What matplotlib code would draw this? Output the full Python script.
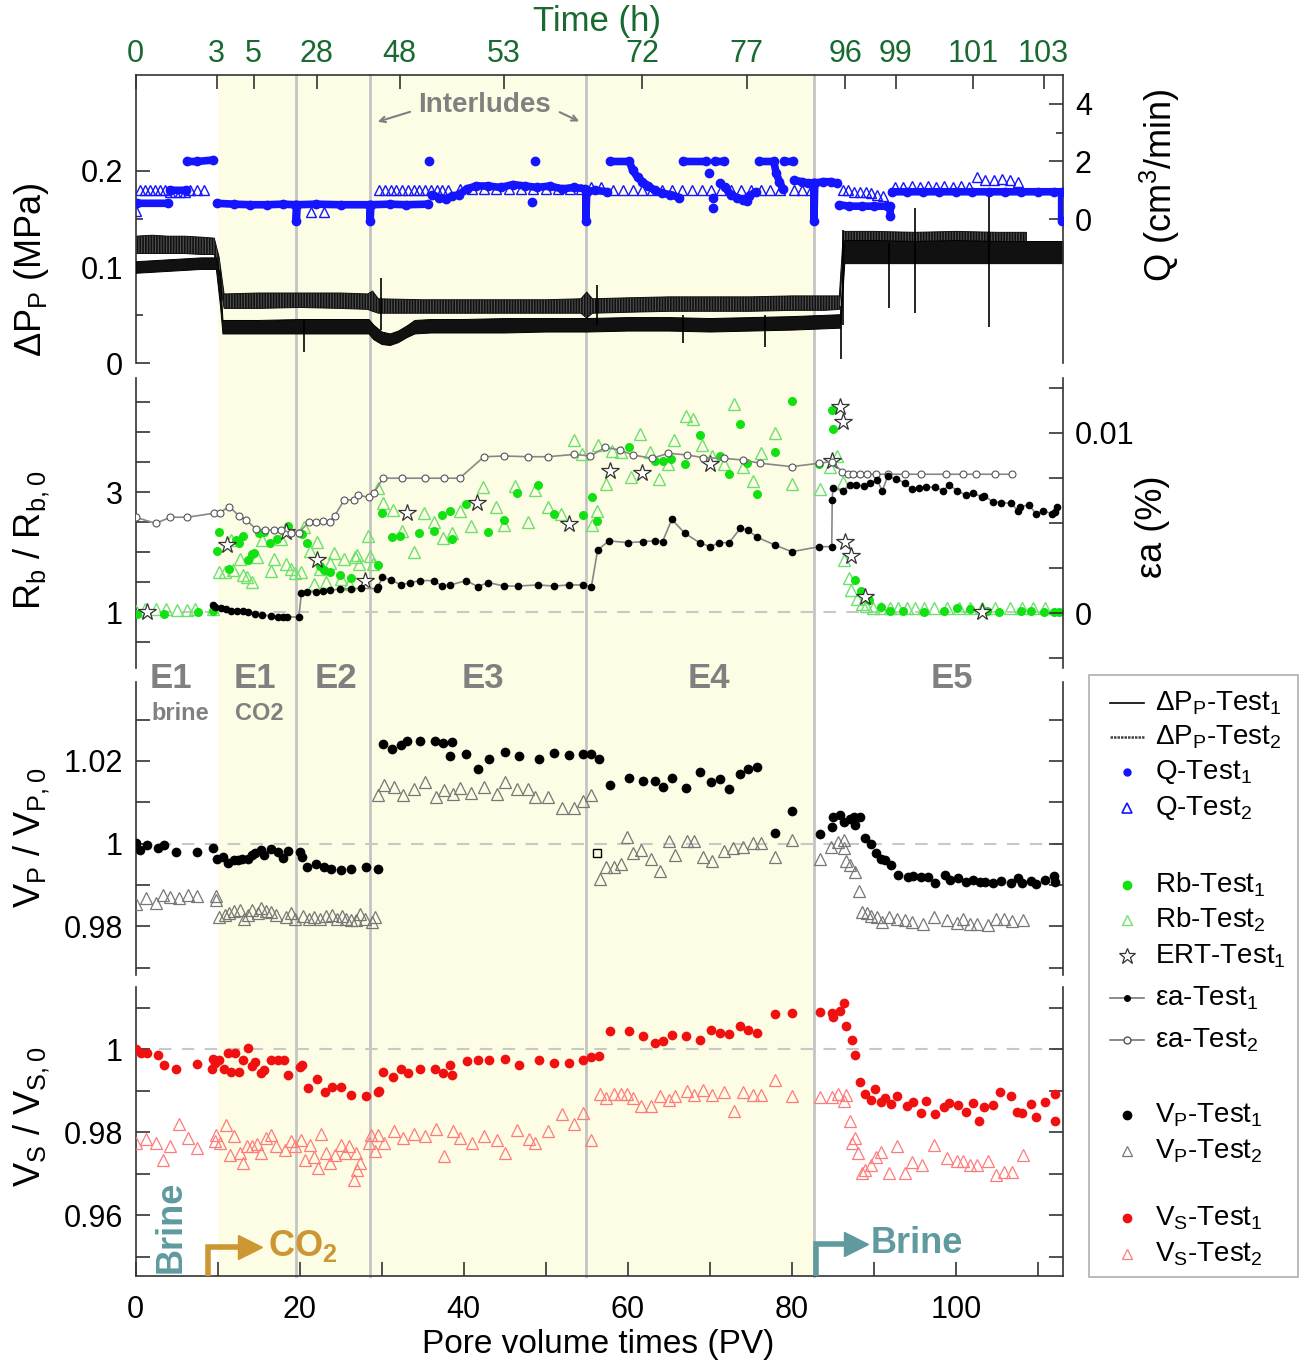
import numpy as np
import matplotlib.pyplot as plt
import matplotlib.transforms as mtransforms
from matplotlib.patches import Rectangle
from matplotlib.lines import Line2D

plt.rcParams['font.family'] = ['Liberation Sans', 'DejaVu Sans']
plt.rcParams['mathtext.default'] = 'regular'
plt.rcParams['hatch.linewidth'] = 1.2

nan = np.nan

# ---------------- data ----------------
# top axis: time in hours at pore-volume positions
time_pos = [0, 9.9, 14.4, 22.1, 32.2, 44.9, 61.8, 74.5, 86.5, 92.7, 102.1, 110.7]
time_lbl = ['0', '3', '5', '28', '48', '53', '72', '77', '96', '99', '101', '103']

co2_start, co2_end = 10.0, 82.7
interludes = [19.6, 28.6, 54.9, 82.7]

# pressure drop, envelope of the noisy records (MPa)
dp1_x = [0, 2, 4, 6, 8, 9.8, 10.3, 10.6, 15, 20, 25, 28.4, 29.0, 30, 31, 32, 33, 34, 36, 40, 45, 50, 55,
         60, 65, 70, 75, 80, 83, 85.9, 86.4, 90, 95, 100, 105, 110, 113]
dp1_lo = [0.094, 0.095, 0.096, 0.097, 0.098, 0.098, 0.060, 0.031, 0.031, 0.031, 0.031, 0.031, 0.025, 0.020,
          0.019, 0.022, 0.027, 0.031, 0.032, 0.032, 0.032, 0.033, 0.033, 0.034, 0.034, 0.033, 0.034, 0.035,
          0.036, 0.037, 0.104, 0.104, 0.104, 0.104, 0.104, 0.104, 0.104]
dp1_hi = [0.106, 0.107, 0.108, 0.109, 0.110, 0.110, 0.090, 0.045, 0.045, 0.046, 0.046, 0.046, 0.040, 0.033,
          0.031, 0.034, 0.039, 0.045, 0.046, 0.046, 0.047, 0.047, 0.047, 0.048, 0.048, 0.047, 0.048, 0.049,
          0.050, 0.051, 0.128, 0.128, 0.127, 0.128, 0.127, 0.127, 0.127]
dp2_x = [0, 2, 4, 6, 8, 9.6, 10.2, 10.8, 15, 20, 25, 28.3, 28.9, 29.6, 35, 40, 45, 50, 54.3, 55.0, 55.7,
         60, 65, 70, 75, 80, 84, 85.8, 86.3, 90, 95, 100, 105, 108.6]
dp2_lo = [0.114, 0.114, 0.114, 0.114, 0.113, 0.113, 0.090, 0.057, 0.057, 0.058, 0.057, 0.056, 0.054, 0.052,
          0.052, 0.052, 0.052, 0.052, 0.052, 0.047, 0.052, 0.053, 0.054, 0.054, 0.054, 0.055, 0.055, 0.056,
          0.116, 0.116, 0.116, 0.116, 0.116, 0.116]
dp2_hi = [0.132, 0.133, 0.132, 0.132, 0.131, 0.130, 0.110, 0.072, 0.073, 0.073, 0.073, 0.072, 0.075, 0.067,
          0.066, 0.066, 0.066, 0.066, 0.067, 0.074, 0.067, 0.068, 0.069, 0.069, 0.069, 0.070, 0.070, 0.070,
          0.137, 0.137, 0.136, 0.137, 0.136, 0.136]
spike_x = [20.5, 29.9, 56.3, 66.8, 76.7, 86.0, 86.3, 91.9, 95.0, 104.0]
spike_lo = [0.012, 0.035, 0.040, 0.021, 0.017, 0.004, 0.040, 0.057, 0.052, 0.038]
spike_hi = [0.045, 0.089, 0.081, 0.050, 0.050, 0.060, 0.138, 0.125, 0.161, 0.178]

# flow rate Q (cm3/min), test 1 runs (nan separates runs)
q1_x = [0.2, 4.0, nan, 4.2, 6.1, nan, 6.3, 7.5, 9.4, nan,
        9.9, 12, 14, 16, 18, 19.5, 19.6, 19.6, 19.7, 22, 25, 28.5, 28.6, 28.6, 28.7, 31, 33, 35.6, nan,
        36.2, 37.0, 37.8, 38.6, 39.4, 40.4, 41.5, 43, 44.5, 46, 47.5, 49, 50.5, 52, 53.5, 54.8, 54.9, 54.9,
        55.0, 56.0, 57.5, nan,
        57.8, 60.2, 60.6, 61.2, 61.8, 62.5, 63.3, 64.2, 65.2, 66.3, nan,
        66.8, 69.6, nan, 70.6, 71.7, nan,
        71.9, 72.6, 73.3, 74.0, 74.8, 75.6, nan,
        76.0, 77.8, 78.1, 78.5, 78.9, nan,
        79.1, 80.1, nan,
        80.3, 81.2, 82.0, 82.6, 82.7, 82.7, 82.8, 83.8, 84.8, 85.5, nan,
        85.8, 87, 88.5, 90, 91.6, 92.0, 92.0, nan,
        92.2, 94, 96, 98, 100, 102, 104, 106, 108, 110, 112, 112.9, 112.9]
q1_y = [0.55, 0.55, nan, 1.0, 1.0, nan, 2.0, 2.0, 2.05, nan,
        0.55, 0.52, 0.5, 0.5, 0.52, 0.5, 0.5, -0.05, 0.5, 0.52, 0.5, 0.5, 0.5, -0.05, 0.5, 0.52, 0.5, 0.52, nan,
        0.85, 0.75, 0.7, 0.8, 0.85, 1.05, 1.15, 1.15, 1.1, 1.2, 1.15, 1.1, 1.15, 1.05, 1.1, 1.05, 1.0, -0.05,
        0.95, 1.0, 0.95, nan,
        2.0, 2.0, 1.7, 1.45, 1.3, 1.15, 1.0, 0.9, 0.85, 0.75, nan,
        2.0, 2.0, nan, 2.0, 2.0, nan,
        1.1, 0.85, 0.75, 0.65, 0.8, 0.95, nan,
        2.0, 2.0, 1.6, 1.3, 1.05, nan,
        2.0, 2.0, nan,
        1.35, 1.3, 1.25, 1.25, 1.25, -0.05, 1.25, 1.3, 1.3, 1.25, nan,
        0.5, 0.45, 0.45, 0.45, 0.45, 0.45, 0.1, nan,
        0.95, 0.95, 0.95, 0.95, 0.95, 0.95, 0.95, 0.95, 0.95, 0.95, 0.95, 0.95, -0.05]
q1_pt_x = [35.8, 48.7, 48.3, 69.9, 70.4, 70.4, 71.3, 74.5]
q1_pt_y = [2.0, 2.0, 0.6, 1.6, 0.75, 0.4, 1.25, 0.62]
q2_x = [0.0,
        0.5, 1.2, 1.8, 2.4, 3.0, 3.6, 4.2, 4.8, 5.4, 6.0, 6.7, 7.5, 8.3,
        21.4, 23.0,
        29.7, 30.4, 31.1, 31.8, 32.5, 33.2, 33.9, 34.6, 35.3, 36.0, 36.7, 37.4, 38.1,
        39.5, 41.0, 42.5, 44.0, 45.5, 47.0, 48.5, 50.0, 51.5, 53.0, 54.3,
        55.5, 56.8,
        58.2, 59.4, 60.6, 61.8, 63.0, 64.2, 65.4, 66.6, 67.8, 69.0, 70.2, 71.4, 72.6, 73.8, 75.0, 76.2, 77.4, 78.6,
        80.3, 81.3, 82.3,
        86.2, 86.9, 87.6, 88.3, 89.0, 89.7, 90.4, 91.1,
        92.6, 93.6, 94.6, 95.6, 96.6, 97.6, 98.6, 99.6, 100.6, 101.6,
        102.6, 103.6, 104.6, 105.6, 106.6, 107.6]
q2_y = [0.3,
        1.0, 1.0, 1.0, 1.0, 1.0, 1.0, 0.95, 0.95, 0.95, 0.95, 1.0, 1.0, 1.0,
        0.25, 0.25,
        1.0, 1.0, 1.0, 1.0, 1.0, 1.0, 1.0, 1.0, 1.0, 1.0, 1.0, 1.0, 1.0,
        1.05, 1.05, 1.05, 1.05, 1.05, 1.05, 1.05, 1.05, 1.05, 1.05, 1.05,
        1.1, 1.1,
        1.0, 1.0, 1.0, 1.0, 1.0, 1.0, 1.0, 1.0, 1.0, 1.0, 1.0, 1.0, 1.0, 1.0, 1.0, 1.0, 1.0, 1.0,
        1.0, 1.0, 1.0,
        1.0, 1.0, 0.95, 0.95, 0.95, 0.9, 0.85, 0.8,
        1.1, 1.1, 1.15, 1.1, 1.15, 1.1, 1.15, 1.1, 1.15, 1.1,
        1.45, 1.35, 1.35, 1.4, 1.35, 1.3]

# bulk resistivity Rb/Rb,0
rb1_x = [0.2, 3.5, 7.6, 9.4, 9.9, 10.2, 11.4, 12.2, 12.6, 13.1, 13.7, 14.2, 14.5, 15.1, 15.7, 16.4, 17.2, 18.6,
         20.0, 20.3, 20.9, 22.5, 23.0, 23.7, 24.9, 26.3, 29.6, 30.1, 31.3, 32.3, 34.6, 36.4, 37.4, 38.3, 38.6,
         40.3, 43.0, 44.9, 46.5, 49.1, 51.0, 54.5, 55.6, 56.3, 60.1, 63.3, 64.3, 65.3, 67.0, 68.8, 71.2, 72.4,
         73.7, 74.6, 75.8, 77.9, 80.0, 83.3, 84.9, 85.0, 87.7, 88.4, 89.4, 90.9, 92.0, 93.5, 96.1, 98.6, 100.2,
         101.7, 103.8, 105.3, 107.9, 109.1, 110.7, 112.0, 112.6]
rb1_y = [0.98, 0.98, 1.0, 1.02, 2.03, 2.34, 1.73, 2.21, 2.16, 2.27, 1.88, 1.98, 1.99, 2.33, 2.34, 2.15, 2.23, 2.44,
         2.32, 2.31, 2.16, 1.77, 1.71, 1.67, 1.62, 1.58, 1.79, 2.65, 2.25, 2.27, 2.32, 2.36, 2.62, 2.69, 2.22,
         2.81, 2.34, 2.54, 2.99, 3.12, 2.64, 2.63, 2.93, 2.52, 3.75, 3.53, 3.53, 3.55, 3.48, 3.96, 3.61, 3.31,
         4.14, 3.49, 2.98, 3.67, 4.53, 3.48, 4.37, 4.05, 1.54, 1.36, 1.21, 1.09, 1.03, 1.03, 1.0, 1.03, 1.07,
         1.05, 1.03, 1.01, 1.03, 1.03, 1.01, 1.01, 1.0]
rb2_x = [0.0, 1.2, 2.5, 3.7, 5.0, 6.3, 7.3, 9.4,
         10.2, 10.9, 11.6, 11.9, 12.7, 13.1, 13.6, 14.2, 14.8, 15.4,
         16.5, 16.9, 17.7, 18.3, 18.9, 19.4, 20.2, 20.5, 21.3, 21.7,
         22.1, 22.5, 23.2, 23.7, 24.2, 25.0, 25.4, 26.0, 26.7, 27.0,
         27.2, 28.4, 28.6, 29.0, 29.5, 30.2, 31.4, 32.5, 33.9, 35.2,
         36.4, 37.5, 38.6, 39.5, 40.9, 42.4, 43.9, 44.9, 46.3, 47.9,
         48.7, 50.3, 51.9, 53.5, 54.4, 55.6, 56.3, 56.4, 57.3, 58.1,
         59.2, 60.4, 61.5, 62.7, 63.8, 64.9, 65.7, 67.1, 68.0, 69.1,
         70.3, 71.7, 72.9, 74.0, 75.3, 76.2, 77.9, 80.0, 83.4, 84.7,
         85.5, 86.2, 86.4, 87.0, 87.2, 87.9, 88.6, 89.1,
         89.9, 90.9, 92.0, 93.0, 94.0, 95.0, 96.1, 97.3, 98.9, 100.4, 101.7, 103.2, 104.8, 106.6, 108.1, 109.4, 110.9]
rb2_y = [1.03, 1.05, 1.05, 1.05, 1.04, 1.04, 1.05, 1.05,
         1.68, 1.68, 2.21, 1.71, 1.89, 1.62, 1.59, 1.51, 1.93, 2.21,
         1.69, 1.89, 2.23, 1.81, 1.72, 1.65, 1.68, 2.43, 2.03, 1.47,
         2.18, 1.73, 1.51, 1.82, 1.99, 1.55, 1.89, 1.48, 1.93, 1.96,
         1.81, 2.27, 1.94, 1.81, 3.08, 2.83, 2.71, 2.36, 2.01, 2.65,
         2.51, 2.24, 2.32, 2.69, 2.44, 3.09, 2.75, 2.46, 3.11, 2.51,
         3.04, 2.75, 2.64, 3.88, 3.64, 2.45, 2.69, 3.79, 3.14, 3.69,
         3.68, 3.26, 3.97, 3.68, 3.23, 3.48, 3.88, 4.27, 4.23, 3.79,
         3.61, 3.48, 4.47, 3.43, 3.19, 3.65, 3.99, 3.14, 3.05, 3.43,
         3.61, 3.18, 1.87, 1.57, 1.37, 1.23, 1.14, 1.11,
         1.08, 1.07, 1.08, 1.08, 1.07, 1.08, 1.08, 1.07, 1.08, 1.08, 1.07, 1.08, 1.08, 1.07, 1.08, 1.08, 1.07]
ert_x = [1.4, 11.2, 18.3, 22.1, 28.0, 33.1, 41.6, 52.8, 57.8, 61.8, 70.0, 84.9, 85.9, 86.2, 86.5, 87.2, 88.9, 103.2]
ert_y = [1.0, 2.12, 2.34, 1.87, 1.53, 2.66, 2.82, 2.48, 3.36, 3.32, 3.47, 3.53, 4.43, 4.18, 2.18, 1.94, 1.26, 1.0]

# axial strain (%)
ea1_x = [9.39, 9.75, 10.42, 11.03, 11.70, 12.37, 13.08, 13.75, 14.52, 15.39, 16.47, 17.34, 17.96, 18.52, 19.91,
         20.22, 20.93, 21.96, 22.88, 23.76, 24.94, 26.22, 27.50, 29.40, 29.55, 30.07, 31.20, 32.32, 33.50, 34.68,
         36.33, 37.35, 38.38, 40.33, 41.71, 43.00, 44.95, 46.59, 49.05, 51.00, 52.85, 54.49, 55.57, 56.34, 57.72,
         60.08, 61.83, 63.27, 64.25, 65.38, 66.97, 68.76, 70.05, 71.18, 72.36, 73.74, 74.61, 75.79, 77.95, 80.00,
         83.34, 84.87, 84.93, 85.00, 86.21, 87.08, 87.85, 88.77, 89.54, 90.42, 91.03, 91.70, 92.73, 93.75, 94.62,
         95.55, 96.32, 97.44, 98.47, 99.14, 100.17, 101.19, 102.11, 103.14, 103.40, 104.53, 105.55, 106.68,
         107.60, 107.86, 108.89, 109.81, 110.68, 111.71, 112.07, 112.38]
ea1_y = [0.00046, 0.00037, 0.00028, 0.00022, 0.00015, 0.00015, 0.00015, 0.00006, -0.00004, -0.00009, -0.00015,
         -0.00018, -0.00018, -0.00018, -0.00022, 0.00111, 0.00120, 0.00120, 0.00124, 0.00129, 0.00133, 0.00137,
         0.00138, 0.00137, 0.00144, 0.00199, 0.00185, 0.00157, 0.00170, 0.00181, 0.00181, 0.00151, 0.00157,
         0.00181, 0.00148, 0.00170, 0.00151, 0.00151, 0.00157, 0.00151, 0.00157, 0.00157, 0.00148, 0.00351,
         0.00401, 0.00391, 0.00397, 0.00401, 0.00397, 0.00520, 0.00443, 0.00391, 0.00369, 0.00391, 0.00391,
         0.00471, 0.00461, 0.00421, 0.00378, 0.00341, 0.00369, 0.00369, 0.00628, 0.00692, 0.00679, 0.00711,
         0.00711, 0.00705, 0.00720, 0.00738, 0.00677, 0.00760, 0.00742, 0.00724, 0.00687, 0.00692, 0.00698,
         0.00698, 0.00679, 0.00711, 0.00679, 0.00655, 0.00664, 0.00646, 0.00650, 0.00618, 0.00613, 0.00609,
         0.00568, 0.00591, 0.00600, 0.00550, 0.00568, 0.00550, 0.00563, 0.00591]
ea2_x = [0, 2.46, 4.26, 6.31, 9.54, 10.26, 11.44, 12.62, 13.49, 14.67, 15.80, 16.93, 17.75, 18.98, 19.91, 21.19,
         21.96, 22.88, 23.65, 24.27, 25.45, 26.58, 27.09, 28.42, 29.04, 30.17, 32.48, 35.30, 37.61, 39.51, 42.48,
         44.95, 47.87, 50.28, 53.51, 55.46, 57.26, 59.06, 60.70, 63.01, 64.92, 67.17, 69.23, 71.69, 74.0, 76.15,
         80.0, 83.34, 84.87, 86.16, 86.82, 87.44, 88.37, 89.13, 90.31, 91.70, 93.75, 95.8, 98.78, 100.93, 102.47,
         104.78, 106.84]
ea2_y = [0.00532, 0.00498, 0.00532, 0.00532, 0.00554, 0.00557, 0.00591, 0.00539, 0.00517, 0.00467, 0.00461,
         0.00461, 0.00461, 0.00447, 0.00447, 0.00508, 0.00508, 0.00511, 0.00508, 0.00539, 0.00628, 0.00628,
         0.00655, 0.00642, 0.00664, 0.00748, 0.00748, 0.00748, 0.00748, 0.00748, 0.00867, 0.00871, 0.00867,
         0.00867, 0.00880, 0.00871, 0.00919, 0.00904, 0.00876, 0.00858, 0.00886, 0.00877, 0.00862, 0.00858,
         0.00849, 0.00831, 0.00812, 0.00831, 0.00840, 0.00784, 0.00770, 0.00770, 0.00770, 0.00770, 0.00770,
         0.00770, 0.00770, 0.00770, 0.00770, 0.00770, 0.00770, 0.00770, 0.00770]

# P-wave velocity VP/VP,0
vp1_x = [0, 0.56, 1.44, 2.72, 3.49, 4.93, 7.49, 9.39, 9.9, 10.67, 11.29, 11.95, 12.47, 12.98, 13.75, 14.16, 14.57,
         15.29, 15.7, 16.57, 17.34, 18.01, 18.62, 20.01, 20.27, 20.93, 22.06, 22.99, 23.86, 25.04, 26.22, 28.12,
         29.55,
         30.17, 31.3, 32.32, 33.15, 34.68, 36.48, 37.46, 38.63, 38.37, 40.33, 41.71, 43.1, 45.05, 46.69, 49.15,
         51.05, 52.85, 54.54, 55.57, 56.45, 57.88, 60.18, 61.83, 63.27,
         64.25, 65.38, 67.07, 68.87, 70.15, 71.28, 72.36, 73.74, 74.66, 75.79, 78.0, 80.0, 83.39, 84.93, 85.03,
         85.9, 86.41, 87.08, 87.6, 87.75, 88.37, 88.98, 89.65, 90.26, 90.83, 91.34, 92.11, 92.98, 94.11, 94.78,
         95.8, 96.57, 97.5, 98.63, 99.24, 100.27, 101.19, 102.11, 102.99, 103.5, 104.53, 105.45, 106.68, 107.6,
         108.12, 109.14, 109.81, 110.84, 111.96, 112.12]
vp1_y = [1.0001, 0.9985, 0.9997, 0.9989, 0.9998, 0.9979, 0.9981, 0.9989, 0.9962, 0.9969, 0.9954, 0.9961, 0.9961,
         0.9962, 0.9962, 0.9973, 0.9977, 0.9985, 0.9973, 0.9986, 0.9981, 0.9965, 0.9983, 0.9979, 0.9969, 0.9943,
         0.9951, 0.9943, 0.9939, 0.9936, 0.9940, 0.9943, 0.9938,
         1.0241, 1.0228, 1.0239, 1.0248, 1.0248, 1.0249, 1.0244, 1.0245, 1.0213, 1.0216, 1.0181, 1.0204, 1.0221,
         1.0211, 1.0205, 1.0219, 1.0215, 1.0217, 1.0216, 1.0205, 1.0142, 1.0158, 1.0152, 1.0152,
         1.0136, 1.0158, 1.0134, 1.0174, 1.0148, 1.0156, 1.0132, 1.0168, 1.0181, 1.0185, 1.0027, 1.0080, 1.0023,
         1.0041, 1.0065, 1.0069, 1.0053, 1.0059, 1.0065, 1.0044, 1.0065, 1.0013, 0.9999, 0.9977, 0.9962, 0.9961,
         0.9948, 0.9924, 0.9920, 0.9922, 0.9920, 0.9919, 0.9906, 0.9924, 0.9912, 0.9916, 0.9908, 0.9912, 0.9908,
         0.9908, 0.9904, 0.9911, 0.9906, 0.9916, 0.9904, 0.9911, 0.9902, 0.9912, 0.9922, 0.9908]
vp2_x = [0, 1.33, 2.46, 3.39, 4.26, 5.28, 6.41, 7.44, 9.8, 9.8, 10.16, 10.93, 11.44, 11.95, 12.72, 13.24, 13.75,
         14.16, 14.88, 15.29, 15.91, 16.57, 17.08, 18.37, 18.98, 19.39, 20.42, 21.19, 21.7, 22.47, 23.24, 24.01,
         24.53, 25.14, 25.66, 26.32, 26.84, 27.35, 28.01, 28.78, 29.14,
         29.55, 30.27, 31.45, 32.58, 33.92, 35.3, 36.58, 37.61, 38.74, 39.56, 40.94, 42.48, 44.02, 45.05, 46.49,
         47.87, 48.74, 50.33, 51.98, 53.51, 54.54, 55.57,
         56.59, 57.36, 58.28, 59.16, 59.93, 60.6, 61.57, 62.85, 63.9, 65.02, 65.79, 67.23, 68.1, 69.12, 70.3,
         71.69, 72.87, 74.1, 75.28, 76.2, 78.0, 80.0, 83.49, 84.77, 85.65, 86.31, 86.31, 86.57, 87.08, 87.7,
         88.21, 88.62, 89.13, 89.65, 90.42, 91.03, 91.85, 92.88, 93.75, 94.62, 95.96, 97.34, 98.88, 100.17,
         100.93, 101.71, 102.63, 103.86, 104.89, 105.91, 106.84, 108.22]
vp2_y = [0.9854, 0.9868, 0.9856, 0.9877, 0.9872, 0.9868, 0.9876, 0.9873, 0.9873, 0.9864, 0.9823, 0.9827, 0.9833,
         0.9838, 0.9841, 0.9817, 0.9827, 0.9840, 0.9833, 0.9844, 0.9838, 0.9836, 0.9827, 0.9823, 0.9832, 0.9817,
         0.9825, 0.9817, 0.9822, 0.9819, 0.9825, 0.9827, 0.9819, 0.9825, 0.9817, 0.9815, 0.9815, 0.9830, 0.9817,
         0.9811, 0.9822,
         1.0118, 1.0142, 1.0136, 1.0118, 1.0132, 1.0148, 1.0112, 1.0130, 1.0119, 1.0134, 1.0123, 1.0136, 1.0120,
         1.0148, 1.0132, 1.0132, 1.0112, 1.0114, 1.0086, 1.0086, 1.0104, 1.0118,
         0.9915, 0.9944, 0.9944, 0.9951, 1.0017, 0.9978, 0.9985, 0.9962, 0.9935, 1.0007, 0.9973, 1.0007, 1.0007,
         0.9967, 0.9957, 0.9983, 0.9989, 0.9993, 1.0001, 1.0001, 0.9969, 1.0009, 0.9962, 0.9993, 1.0005, 1.0009,
         0.9989, 0.9957, 0.9948, 0.9932, 0.9886, 0.9836, 0.9833, 0.9825, 0.9823, 0.9811, 0.9822, 0.9817, 0.9815,
         0.9811, 0.9806, 0.9822, 0.9815, 0.9809, 0.9817, 0.9806, 0.9807, 0.9803, 0.9819, 0.9817, 0.9814, 0.9815]
vp_sq_x = [56.2]
vp_sq_y = [0.9977]

# S-wave velocity VS/VS,0
vs1_x = [0, 0.67, 1.44, 2.72, 3.49, 4.93, 7.49, 9.29, 9.39, 9.75, 10.16, 10.77, 11.29, 11.6, 12.11, 12.62, 13.14,
         13.75, 14.16, 14.52, 15.29, 15.7, 16.57, 17.34, 18.11, 18.62, 20.01, 20.27, 21.04, 22.11, 23.09, 23.91,
         25.04, 26.32, 28.12, 29.5, 29.66,
         30.17, 31.35, 32.32, 33.25, 34.68, 36.48, 37.46, 38.38, 38.63, 40.43, 41.71, 43.1, 45.05, 46.69, 49.15,
         51.05, 52.85, 54.54, 55.57, 56.45, 57.88, 60.18, 61.83, 63.27,
         64.25, 65.38, 67.07, 68.87, 70.15, 71.28, 72.36, 73.74, 74.66, 75.79, 78.0, 80.05, 83.39, 84.93, 85.03,
         85.9, 86.31, 86.57, 87.34, 87.75, 88.37, 88.98, 89.65, 90.16, 90.83, 91.34, 92.11, 92.88, 94.01, 94.78,
         95.7, 96.42, 97.5, 98.52, 99.14, 100.27, 101.19, 102.11, 102.83, 103.4, 104.53, 105.4, 106.68, 107.5,
         108.12, 109.14, 109.81, 110.84, 112.07, 112.07]
vs1_y = [1.0, 0.9992, 0.9990, 0.9986, 0.9961, 0.9953, 0.9964, 0.9953, 0.9976, 0.9966, 0.9974, 0.9952, 0.9990,
         0.9946, 0.9990, 0.9946, 0.9974, 1.0002, 0.9960, 0.9970, 0.9942, 0.9949, 0.9973, 0.9973, 0.9973, 0.9937,
         0.9958, 0.9961, 0.9906, 0.9928, 0.9898, 0.9910, 0.9910, 0.9890, 0.9888, 0.9896, 0.9900,
         0.9946, 0.9933, 0.9953, 0.9944, 0.9952, 0.9953, 0.9942, 0.9961, 0.9938, 0.9972, 0.9974, 0.9974, 0.9976,
         0.9962, 0.9974, 0.9966, 0.9968, 0.9974, 0.9982, 0.9984, 1.0044, 1.0043, 1.0031, 1.0016,
         1.0019, 1.0035, 1.0032, 1.0023, 1.0047, 1.0040, 1.0037, 1.0056, 1.0047, 1.0040, 1.0084, 1.0087, 1.0091,
         1.0088, 1.0079, 1.0093, 1.0111, 1.0056, 1.0023, 0.9986, 0.9921, 0.9892, 0.9878, 0.9904, 0.9874, 0.9882,
         0.9868, 0.9888, 0.9864, 0.9874, 0.9847, 0.9876, 0.9844, 0.9862, 0.9870, 0.9866, 0.9850, 0.9870, 0.9828,
         0.9860, 0.9866, 0.9896, 0.9888, 0.9850, 0.9846, 0.9868, 0.9838, 0.9872, 0.9892, 0.9826]
vs2_x = [0, 1.33, 2.46, 3.39, 4.26, 5.28, 6.41, 7.44, 9.65, 9.8, 10.26, 11.03, 11.54, 11.95, 12.72, 13.14, 13.64,
         14.16, 14.78, 15.29, 15.91, 16.57, 17.08, 18.27, 18.98, 19.39, 20.16, 20.67, 21.29, 21.7, 22.22, 22.58,
         23.24, 23.76, 24.27, 25.04, 25.55, 26.07, 26.68, 26.84, 26.99, 27.35, 28.48, 28.73, 29.14, 29.55,
         30.27, 31.45, 32.58, 33.92, 35.3, 36.58, 37.61, 38.74, 39.56, 41.04, 42.48, 44.02, 45.05, 46.49, 47.97,
         48.74, 50.33, 51.98, 53.51, 54.54, 55.57,
         56.59, 57.36, 58.28, 59.16, 59.93, 60.7, 61.57, 62.85, 63.9, 65.02, 65.79, 67.23, 68.1, 69.12, 70.3,
         71.69, 72.97, 74.1, 75.28, 76.2, 78.0, 80.0, 83.49, 84.87, 85.65, 86.31, 86.57, 87.08, 87.34, 87.75,
         88.11, 88.62, 88.98, 89.65, 90.31, 90.93, 91.8, 92.88, 93.75, 94.62, 95.91, 97.34, 98.88, 100.17,
         100.93, 101.71, 102.63, 103.86, 104.89, 105.91, 106.84, 108.22]
vs2_y = [0.9774, 0.9783, 0.9774, 0.9733, 0.9767, 0.9820, 0.9786, 0.9761, 0.9778, 0.9794, 0.9774, 0.9818, 0.9745,
         0.9790, 0.9751, 0.9727, 0.9766, 0.9766, 0.9772, 0.9749, 0.9786, 0.9794, 0.9766, 0.9757, 0.9780, 0.9766,
         0.9782, 0.9733, 0.9770, 0.9740, 0.9713, 0.9796, 0.9751, 0.9727, 0.9745, 0.9770, 0.9751, 0.9766, 0.9684,
         0.9751, 0.9709, 0.9727, 0.9774, 0.9794, 0.9756, 0.9794,
         0.9774, 0.9802, 0.9786, 0.9796, 0.9791, 0.9807, 0.9743, 0.9802, 0.9786, 0.9775, 0.9790, 0.9782, 0.9751,
         0.9806, 0.9783, 0.9774, 0.9804, 0.9844, 0.9820, 0.9846, 0.9782,
         0.9892, 0.9882, 0.9892, 0.9892, 0.9892, 0.9882, 0.9864, 0.9864, 0.9888, 0.9878, 0.9888, 0.9900, 0.9890,
         0.9902, 0.9890, 0.9896, 0.9852, 0.9896, 0.9890, 0.9890, 0.9925, 0.9888, 0.9886, 0.9886, 0.9892, 0.9876,
         0.9890, 0.9826, 0.9774, 0.9786, 0.9751, 0.9701, 0.9709, 0.9721, 0.9740, 0.9753, 0.9701, 0.9766, 0.9701,
         0.9729, 0.9721, 0.9770, 0.9737, 0.9732, 0.9732, 0.9721, 0.9721, 0.9732, 0.9697, 0.9705, 0.9705, 0.9745]

# ---------------- styling ----------------
W, H = 1309, 1365
blue = '#1414ff'
green = '#11e011'
lgreen = '#6ee06e'
red = '#f01010'
lred = '#ff7b7b'
gray_pts = '#777777'
tgreen = '#186a30'
teal = '#5e9a9e'
gold = '#cc9632'
elab = '#808080'
spc = '#333333'

fig = plt.figure(figsize=(W / 100, H / 100), dpi=100)


def px_axes(x0, y0, x1, y1):
    ax = fig.add_axes([x0 / W, 1 - y1 / H, (x1 - x0) / W, (y1 - y0) / H])
    ax.set_facecolor('none')
    for sp in ax.spines.values():
        sp.set_linewidth(1.2)
        sp.set_color(spc)
    ax.tick_params(direction='in', length=10, width=1.2, labelsize=22, color=spc, pad=9)
    ax.tick_params(which='minor', direction='in', length=5, width=1.2, color=spc)
    return ax


XL, XR = 135.5, 1062.5
ax1 = px_axes(XL, 75, XR, 363.3)
ax2 = px_axes(XL, 378, XR, 668)
ax3 = px_axes(XL, 682, XR, 975)
ax4 = px_axes(XL, 987, XR, 1276)
for ax in (ax1, ax2, ax3, ax4):
    ax.set_xlim(0, 113)

# CO2 shading and interlude lines span all panels
btf = mtransforms.blended_transform_factory(ax4.transData, fig.transFigure)
fig.add_artist(Rectangle((co2_start, 1 - 1276 / H), co2_end - co2_start, (1276 - 75) / H,
                         transform=btf, facecolor='#fdfce4', edgecolor='none', zorder=-2))
for xv in interludes:
    fig.add_artist(Line2D([xv, xv], [1 - 1276 / H, 1 - 75 / H], transform=btf, color='#c4c4c4', lw=2, zorder=-1))

# ---- panel 1: pressure drop and flow rate
ax1.fill_between(dp2_x, dp2_lo, dp2_hi, facecolor='#505050', edgecolor='#111111', hatch='||||||',
                 lw=0.7, zorder=2)
ax1.fill_between(dp1_x, dp1_lo, dp1_hi, facecolor='#111111', edgecolor='black', lw=0.7, zorder=3)
ax1.vlines(spike_x, spike_lo, spike_hi, color='black', lw=1.2, zorder=3)
ax1.set_ylim(0, 0.2994)
ax1.set_yticks([0, 0.1, 0.2])
ax1.set_yticklabels(['0', '0.1', '0.2'])
ax1.set_yticks([0.05, 0.15], minor=True)
ax1.xaxis.tick_top()
ax1.set_xticks(time_pos)
ax1.set_xticklabels(time_lbl)
ax1.tick_params(axis='x', top=True, bottom=False, labelcolor=tgreen, pad=4)
ax1.tick_params(axis='y', right=False)
ax1.spines['bottom'].set_visible(False)
ax1.spines['right'].set_visible(False)

ax1q = ax1.twinx()
ax1q.plot(q2_x, q2_y, '^', mfc='none', mec=blue, ms=7.5, mew=1.0, zorder=2)
ax1q.plot(q1_x, q1_y, '-o', color=blue, lw=5.5, ms=6, solid_capstyle='round', solid_joinstyle='round', zorder=3)
ax1q.plot(q1_pt_x, q1_pt_y, 'o', color=blue, ms=6, zorder=3)
ax1q.set_ylim(-5, 5)
ax1q.set_yticks([0, 2, 4])
ax1q.set_yticks([1, 3], minor=True)
ax1q.tick_params(direction='in', length=10, width=1.2, labelsize=22, color=spc, pad=9)
ax1q.tick_params(which='minor', direction='in', length=5, width=1.2, color=spc)
for sp in ('top', 'bottom', 'left'):
    ax1q.spines[sp].set_visible(False)
ax1q.spines['right'].set_linewidth(1.2)
ax1q.spines['right'].set_color(spc)

ax1.text(42.6, 0.268, 'Interludes', ha='center', va='center', fontsize=20, fontweight='bold', color=elab)
ax1.annotate('', xy=(29.2, 0.250), xytext=(33.8, 0.262),
             arrowprops=dict(arrowstyle='->', color=elab, lw=1.5))
ax1.annotate('', xy=(54.4, 0.250), xytext=(51.4, 0.262),
             arrowprops=dict(arrowstyle='->', color=elab, lw=1.5))

# ---- panel 2: resistivity and axial strain
ax2.axhline(1, color='#c8c8c8', lw=1.5, ls=(0, (6, 5)), zorder=1)
ax2.plot(rb2_x, rb2_y, '^', mfc='none', mec=lgreen, ms=8, mew=1.0, zorder=3)
ax2.plot(rb1_x, rb1_y, 'o', color=green, ms=6.5, mec='none', zorder=3)
ax2.plot(ert_x, ert_y, '*', mfc='white', mec='#333333', ms=13, mew=0.9, zorder=5)
ax2.set_ylim(0.0717, 4.905)
rb_ticks = [0.5, 1, 1.5, 2, 2.5, 3, 3.5, 4, 4.5]
ax2.set_yticks(rb_ticks)
ax2.set_yticklabels(['', '1', '', '', '', '3', '', '', ''])
ax2.set_xticks([])
ax2.tick_params(axis='y', right=False)
for sp in ('top', 'bottom', 'right'):
    ax2.spines[sp].set_visible(False)

ax2e = ax2.twinx()
ax2e.plot(ea2_x, ea2_y, '-o', color='#888888', lw=1.2, mfc='white', mec='#555555', ms=5, mew=0.8, zorder=4)
ax2e.plot(ea1_x, ea1_y, '-o', color='#888888', lw=1.2, mfc='black', mec='black', ms=4.5, zorder=4)
ax2e.set_ylim(-0.003029, 0.013029)
ea_ticks = [-0.0025, 0, 0.0025, 0.005, 0.0075, 0.01, 0.0125]
ax2e.set_yticks(ea_ticks)
ax2e.set_yticklabels(['', '0', '', '', '', '0.01', ''])
ax2e.tick_params(direction='in', length=10, width=1.2, labelsize=22, color=spc, pad=9)
for sp in ('top', 'bottom', 'left'):
    ax2e.spines[sp].set_visible(False)
ax2e.spines['right'].set_linewidth(1.2)
ax2e.spines['right'].set_color(spc)

# ---- panel 3: VP
ax3.axhline(1, color='#c8c8c8', lw=1.5, ls=(0, (6, 5)), zorder=1)
ax3.plot(vp2_x, vp2_y, '^', mfc='none', mec=gray_pts, ms=8, mew=0.9, zorder=3)
ax3.plot(vp1_x, vp1_y, 'o', color='black', ms=7, mec='none', zorder=3)
ax3.plot(vp_sq_x, vp_sq_y, 's', mfc='none', mec='black', ms=6, mew=1.0, zorder=3)
ax3.set_ylim(0.96828, 1.03906)
ax3.set_yticks([0.97, 0.98, 0.99, 1.0, 1.01, 1.02, 1.03])
ax3.set_yticklabels(['', '0.98', '', '1', '', '1.02', ''])
ax3.set_xticks([])
ax3.tick_params(axis='y', right=True)
for sp in ('top', 'bottom'):
    ax3.spines[sp].set_visible(False)

# ---- panel 4: VS
ax4.axhline(1, color='#c8c8c8', lw=1.5, ls=(0, (6, 5)), zorder=1)
ax4.plot(vs2_x, vs2_y, '^', mfc='none', mec=lred, ms=8, mew=0.9, zorder=3)
ax4.plot(vs1_x, vs1_y, 'o', color=red, ms=7, mec='none', zorder=3)
ax4.set_ylim(0.94537, 1.01501)
ax4.set_yticks([0.95, 0.96, 0.97, 0.98, 0.99, 1.0, 1.01])
ax4.set_yticklabels(['', '0.96', '', '0.98', '', '1', ''])
ax4.set_xticks(np.arange(0, 111, 10))
ax4.set_xticklabels(['0', '', '20', '', '40', '', '60', '', '80', '', '100', ''])
ax4.tick_params(axis='y', right=True)
ax4.tick_params(axis='x', pad=14)
ax4.spines['top'].set_visible(False)

# fluid switch arrows
ax4.plot([8.84, 8.84, 13.0], [0.94537, 0.9524, 0.9524], color=gold, lw=4, solid_joinstyle='miter',
         solid_capstyle='butt', clip_on=False, zorder=6)
ax4.plot([14.0], [0.9524], marker='>', color=gold, ms=17, clip_on=False, zorder=6)
ax4.text(16.1, 0.9527, 'CO$_2$', ha='left', va='center', fontsize=26, fontweight='bold', color=gold)
ax4.plot([83.0, 83.0, 86.8], [0.94537, 0.9530, 0.9530], color=teal, lw=4, solid_joinstyle='miter',
         solid_capstyle='butt', clip_on=False, zorder=6)
ax4.plot([87.8], [0.9530], marker='>', color=teal, ms=17, clip_on=False, zorder=6)
ax4.text(89.6, 0.9532, 'Brine', ha='left', va='center', fontsize=26, fontweight='bold', color=teal)
ax4.text(4.3, 0.9573, 'Brine', ha='center', va='center', rotation=90, fontsize=26, fontweight='bold', color=teal)

# ---- labels
fig.text(597 / W, 1 - 22 / H, 'Time (h)', ha='center', va='center', fontsize=25, color=tgreen)
fig.text(598 / W, 1 - 1345 / H, 'Pore volume times (PV)', ha='center', va='center', fontsize=24)
fig.text(32 / W, 1 - 270 / H, 'ΔP$_P$ (MPa)', ha='center', va='center', rotation=90, fontsize=26)
fig.text(32 / W, 1 - 540 / H, 'R$_b$ / R$_{b,0}$', ha='center', va='center', rotation=90, fontsize=26)
fig.text(32 / W, 1 - 838 / H, 'V$_P$ / V$_{P,0}$', ha='center', va='center', rotation=90, fontsize=26)
fig.text(32 / W, 1 - 1117 / H, 'V$_S$ / V$_{S,0}$', ha='center', va='center', rotation=90, fontsize=26)
fig.text(1160 / W, 1 - 185 / H, 'Q (cm$^3$/min)', ha='center', va='center', rotation=90, fontsize=26)
fig.text(1152 / W, 1 - 527 / H, 'εa (%)', ha='center', va='center', rotation=90, fontsize=26)

for xp, txt in [(171, 'E1'), (255, 'E1'), (336, 'E2'), (483, 'E3'), (709, 'E4'), (952, 'E5')]:
    fig.text(xp / W, 1 - 678 / H, txt, ha='center', va='center', fontsize=25, fontweight='bold', color=elab)
fig.text(180 / W, 1 - 713 / H, 'brine', ha='center', va='center', fontsize=17, fontweight='bold', color=elab)
fig.text(259 / W, 1 - 713 / H, 'CO2', ha='center', va='center', fontsize=17, fontweight='bold', color=elab)

# ---- legend (drawn by hand in its own box)
legax = fig.add_axes([1088 / W, 1 - 1277 / H, 210 / W, 603 / H])
legax.set_xlim(1088, 1298)
legax.set_ylim(1277, 674)
legax.axis('off')
legax.add_patch(Rectangle((1088.5, 674.5), 209, 602, fill=False, ec='#b0b0b0', lw=1.2, clip_on=False))
entries = [
    (703, 'ΔP$_P$-Test$_1$', dict(color='black', lw=1.2), None),
    (737, 'ΔP$_P$-Test$_2$', dict(color='#444444', lw=1.8, ls=(0, (1, 0.4))), None),
    (772, 'Q-Test$_1$', None, dict(marker='o', color=blue, ms=5)),
    (808, 'Q-Test$_2$', None, dict(marker='^', mfc='none', mec=blue, ms=7, mew=1.2)),
    (885, 'Rb-Test$_1$', None, dict(marker='o', color=green, ms=6)),
    (920, 'Rb-Test$_2$', None, dict(marker='^', mfc='none', mec=lgreen, ms=7, mew=1.0)),
    (956, 'ERT-Test$_1$', None, dict(marker='*', mfc='white', mec='#333333', ms=12, mew=0.9)),
    (998, 'εa-Test$_1$', dict(color='#777777', lw=1.2), dict(marker='o', color='black', ms=4)),
    (1040, 'εa-Test$_2$', dict(color='#777777', lw=1.2), dict(marker='o', mfc='white', mec='#555555', ms=5)),
    (1115, 'V$_P$-Test$_1$', None, dict(marker='o', color='black', ms=6)),
    (1151, 'V$_P$-Test$_2$', None, dict(marker='^', mfc='none', mec=gray_pts, ms=7, mew=0.9)),
    (1218, 'V$_S$-Test$_1$', None, dict(marker='o', color=red, ms=6)),
    (1254, 'V$_S$-Test$_2$', None, dict(marker='^', mfc='none', mec=lred, ms=7, mew=0.9)),
]
for y, lab, ln, mk in entries:
    if ln:
        legax.plot([1110, 1144], [y, y], **ln)
    if mk:
        legax.plot([1127], [y], ls='none', **mk)
    legax.text(1155, y, lab, ha='left', va='center', fontsize=20)

fig.savefig('out.png', dpi=100)
